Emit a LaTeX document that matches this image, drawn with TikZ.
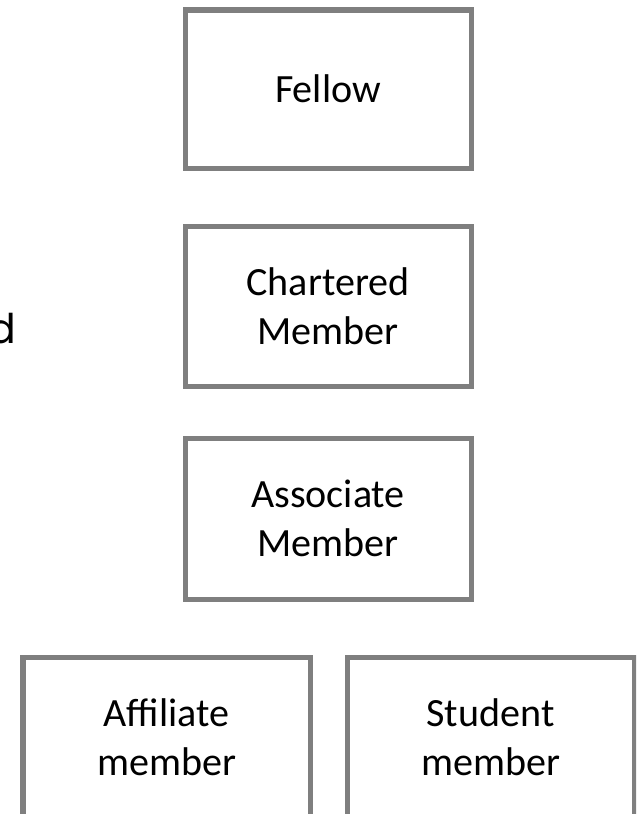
\documentclass[tikz,border=0pt]{standalone}
\usepackage{fontspec}
\setmainfont{Carlito}
\newfontfamily\thinfont{Poppins}
\usetikzlibrary{positioning}
\definecolor{boxgray}{RGB}{127,127,127}
\tikzset{
  grade/.style={draw=boxgray, line width=0.1cm, rectangle, outer sep=0pt,
    align=center, text=black, minimum width=5.72cm,
    font=\fontsize{22.8}{27.8}\selectfont},
}

\begin{document}
\begin{tikzpicture}
                    \path[use as bounding box, clip] (0,0) rectangle (12.72,-16.28);
                    \node[grade, minimum height=3.16cm] (fellow) at (6.56,-1.78) {Fellow};
                    \node[grade, minimum height=3.2cm, below=1.16cm of fellow] (chartered) {Chartered\\Member};
                    \node[grade, minimum height=3.22cm, below=1.04cm of chartered] (associate) {Associate\\Member};
                    \node[grade, minimum height=3.2cm, minimum width=5.74cm, below=1.16cm of associate, xshift=-3.23cm] (affiliate) {Affiliate\\member};
                    \node[grade, minimum height=3.2cm, minimum width=5.74cm, right=0.74cm of affiliate] (student) {Student\\member};
                    \node[anchor=base east, inner sep=0pt, font=\thinfont\fontsize{23.3}{28}\selectfont] (partial) at (0.33,-6.86) {d};
                \end{tikzpicture}
\end{document}
